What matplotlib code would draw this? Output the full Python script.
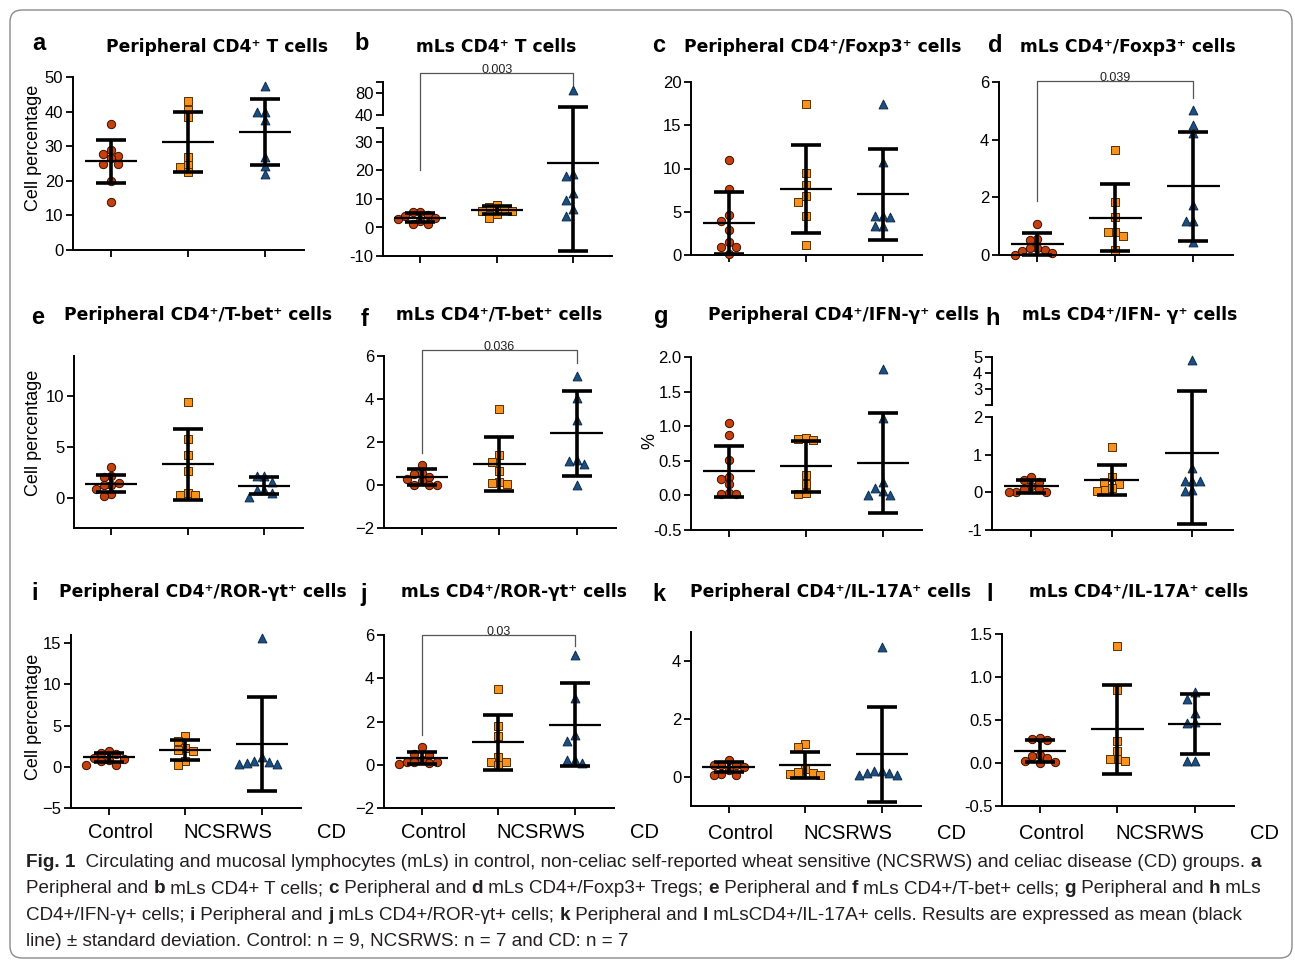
import numpy as np
import matplotlib.pyplot as plt
from matplotlib.patches import FancyBboxPatch
from matplotlib.transforms import IdentityTransform, blended_transform_factory

W, H = 1295, 960
plt.rcParams['font.family'] = ['Liberation Sans', 'DejaVu Sans']

groups = ["Control", "NCSRWS", "CD"]
colors = ["#c4400c", "#f8921e", "#1b4f82"]
edges = ["#3a1000", "#5a3000", "#0d2a48"]
markers = ["o", "s", "^"]
msize = [36, 30, 40]

# a - Peripheral CD4+ T cells
a_control = [36.5, 29.0, 27.7, 27.2, 26.7, 24.9, 24.9, 20.0, 14.0]
a_ncsrws = [43.1, 40.5, 38.3, 27.0, 24.6, 24.0, 22.4]
a_cd = [47.3, 39.8, 39.8, 37.6, 26.8, 24.3, 22.0]
a_mean = [25.6, 31.3, 34.1]
a_sd = [6.2, 8.7, 9.6]

# b - mLs CD4+ T cells
b_control = [5.5, 5.5, 4.3, 4.0, 3.2, 2.9, 2.2, 1.4, 1.2]
b_ncsrws = [7.8, 7.2, 6.6, 5.8, 5.8, 4.9, 3.5]
b_cd = [85.0, 18.7, 18.0, 12.1, 9.8, 6.5, 4.0]
b_mean = [3.4, 6.1, 22.8]
b_sd = [1.6, 1.3, 31.1]

# c - Peripheral CD4+/Foxp3+
c_control = [11.0, 7.6, 4.6, 3.9, 2.9, 1.5, 0.9, 0.9, 0.1]
c_ncsrws = [17.5, 9.5, 8.1, 6.8, 6.1, 4.5, 1.1]
c_cd = [17.4, 10.8, 4.5, 4.5, 4.4, 3.3, 3.3]
c_mean = [3.7, 7.6, 7.0]
c_sd = [3.6, 5.1, 5.3]

# d - mLs CD4+/Foxp3+
d_control = [1.07, 0.57, 0.53, 0.24, 0.23, 0.18, 0.15, 0.07, 0.0]
d_ncsrws = [3.63, 1.83, 1.31, 0.8, 0.79, 0.65, 0.16]
d_cd = [5.02, 4.52, 4.23, 1.75, 1.19, 1.19, 0.44]
d_mean = [0.39, 1.29, 2.38]
d_sd = [0.39, 1.16, 1.9]

# e - Peripheral CD4+/T-bet+
e_control = [3.0, 2.1, 2.05, 1.4, 1.25, 1.25, 0.82, 0.33, 0.16]
e_ncsrws = [9.5, 5.8, 4.2, 2.6, 0.43, 0.23, 0.23]
e_cd = [2.1, 2.1, 1.5, 0.72, 0.72, 0.46, 0.07]
e_mean = [1.38, 3.29, 1.2]
e_sd = [0.85, 3.5, 0.8]

# f - mLs CD4+/T-bet+
f_control = [0.94, 0.56, 0.53, 0.36, 0.28, 0.17, 0.02, 0.0, 0.0]
f_ncsrws = [3.53, 1.41, 1.07, 0.63, 0.12, 0.09, 0.06]
f_cd = [5.08, 4.04, 3.03, 1.15, 1.1, 0.99, 0.02]
f_mean = [0.37, 0.99, 2.41]
f_sd = [0.36, 1.25, 1.98]

# g - Peripheral CD4+/IFN-g+
g_control = [1.04, 0.87, 0.51, 0.27, 0.24, 0.16, 0.03, 0.02, 0.02]
g_ncsrws = [0.83, 0.81, 0.8, 0.29, 0.16, 0.04, 0.015]
g_cd = [1.83, 1.12, 0.2, 0.1, 0.06, 0.005, 0.005]
g_mean = [0.35, 0.42, 0.47]
g_sd = [0.37, 0.37, 0.72]

# h - mLs CD4+/IFN-g+
h_control = [0.4, 0.32, 0.29, 0.16, 0.1, 0.09, 0.01, 0.0, 0.0]
h_ncsrws = [1.21, 0.4, 0.27, 0.23, 0.13, 0.06, 0.04]
h_cd = [4.83, 0.65, 0.3, 0.3, 0.3, 0.07, 0.03]
h_mean = [0.16, 0.34, 1.04]
h_sd = [0.17, 0.4, 1.87]

# i - Peripheral CD4+/ROR-gt+
i_control = [1.9, 1.7, 1.6, 1.1, 1.0, 0.8, 0.73, 0.28, 0.2]
i_ncsrws = [3.8, 3.1, 2.24, 2.0, 1.9, 0.73, 0.2]
i_cd = [15.6, 1.2, 0.73, 0.6, 0.5, 0.33, 0.33]
i_mean = [1.14, 2.0, 2.77]
i_sd = [0.57, 1.2, 5.7]

# j - mLs CD4+/ROR-gt+
j_control = [0.8, 0.49, 0.46, 0.23, 0.15, 0.15, 0.12, 0.08, 0.05]
j_ncsrws = [3.5, 1.77, 1.34, 0.35, 0.11, 0.11, 0.0]
j_cd = [5.06, 3.09, 1.36, 1.08, 0.23, 0.2, 0.08]
j_mean = [0.31, 1.03, 1.85]
j_sd = [0.28, 1.27, 1.93]

# k - Peripheral CD4+/IL-17A+
k_control = [0.58, 0.43, 0.41, 0.41, 0.35, 0.23, 0.12, 0.06, 0.06]
k_ncsrws = [1.14, 1.03, 0.29, 0.17, 0.14, 0.09, 0.06]
k_cd = [4.49, 0.2, 0.2, 0.14, 0.14, 0.06, 0.06]
k_mean = [0.35, 0.41, 0.78]
k_sd = [0.18, 0.44, 1.65]

# l - mLs CD4+/IL-17A+
l_control = [0.29, 0.28, 0.27, 0.09, 0.08, 0.06, 0.02, 0.01, 0.0]
l_ncsrws = [1.36, 0.85, 0.26, 0.14, 0.05, 0.05, 0.02]
l_cd = [0.83, 0.75, 0.58, 0.48, 0.47, 0.02, 0.02]
l_mean = [0.14, 0.39, 0.45]
l_sd = [0.13, 0.52, 0.35]

# significance brackets: (left leg bottom, bracket top, right leg bottom, p)
b_sig = (20, 116, 94.5, "0.003")
d_sig = (1.86, 6.02, 5.45, "0.039")
f_sig = (1.49, 6.28, 5.66, "0.036")
j_sig = (1.36, 6.0, 5.49, "0.03")

caption = [
    "*Fig. 1*  Circulating and mucosal lymphocytes (mLs) in control, non-celiac self-reported wheat sensitive (NCSRWS) and celiac disease (CD) groups. *a*",
    "Peripheral and *b* mLs CD4+ T cells; *c* Peripheral and *d* mLs CD4+/Foxp3+ Tregs; *e* Peripheral and *f* mLs CD4+/T-bet+ cells; *g* Peripheral and *h* mLs",
    "CD4+/IFN-\u03b3+ cells; *i* Peripheral and *j* mLs CD4+/ROR-\u03b3t+ cells; *k* Peripheral and *l* mLsCD4+/IL-17A+ cells. Results are expressed as mean (black",
    "line) \u00b1 standard deviation. Control: n = 9, NCSRWS: n = 7 and CD: n = 7",
]


def rect(l, t, r, b):
    return [l / W, 1 - b / H, (r - l) / W, (b - t) / H]


def break_scale(vals, pix):
    # piecewise linear y scale for the broken axes
    s0 = (pix[1] - pix[0]) / (vals[1] - vals[0])
    s1 = (pix[-1] - pix[-2]) / (vals[-1] - vals[-2])
    v = [vals[0] - 1e4] + list(vals) + [vals[-1] + 1e4]
    p = [pix[0] - 1e4 * s0] + list(pix) + [pix[-1] + 1e4 * s1]
    return (lambda y: np.interp(y, v, p)), (lambda q: np.interp(q, p, v))


def swarm(ax, x0, vals, d=7.5):
    # spread points sideways (in pixels) when they would overlap
    tr = ax.transData
    ys = tr.transform(np.column_stack([np.full(len(vals), x0), vals]))[:, 1]
    ppu = tr.transform((1, 0))[0] - tr.transform((0, 0))[0]
    cands = [0.0] + [s * m * d for m in range(1, 8) for s in (-1, 1)]
    placed = []
    offs = np.zeros(len(vals))
    for idx in np.argsort(-ys):
        for c in cands:
            if all(np.hypot(c - px, ys[idx] - py) >= d - 0.01 for px, py in placed):
                break
        placed.append((c, ys[idx]))
        offs[idx] = c / ppu
    return x0 + offs


panels = [
    dict(L="a", T="Peripheral CD4\u207a T cells", Lxy=(39, 50), Txy=(217, 52), box=(73, 77, 304, 250),
         data=(a_control, a_ncsrws, a_cd), mean=a_mean, sd=a_sd, ylim=(0, 50),
         yt=[0, 10, 20, 30, 40, 50], ytl=None, ylab="Cell percentage", ylab_xy=(34, 148)),
    dict(L="b", T="mLs CD4\u207a T cells", Lxy=(362, 50), Txy=(496, 52), box=(383, 82, 612, 256),
         data=(b_control, b_ncsrws, b_cd), mean=b_mean, sd=b_sd, ylim=(-10, 100),
         yt=[-10, 0, 10, 20, 30, 35, 40, 80, 100], ytl=["-10", "0", "10", "20", "30", "", "40", "80", ""],
         brk=([-10, 35, 40, 100], [0, 128.25, 141, 174]), sig=b_sig),
    dict(L="c", T="Peripheral CD4\u207a/Foxp3\u207a cells", Lxy=(659, 52), Txy=(823, 52), box=(691, 82, 922, 255),
         data=(c_control, c_ncsrws, c_cd), mean=c_mean, sd=c_sd, ylim=(0, 20),
         yt=[0, 5, 10, 15, 20], ytl=None),
    dict(L="d", T="mLs CD4\u207a/Foxp3\u207a cells", Lxy=(995, 52), Txy=(1128, 52), box=(999, 82, 1233, 255),
         data=(d_control, d_ncsrws, d_cd), mean=d_mean, sd=d_sd, ylim=(0, 6),
         yt=[0, 2, 4, 6], ytl=None, sig=d_sig),
    dict(L="e", T="Peripheral CD4\u207a/T-bet\u207a cells", Lxy=(38, 324), Txy=(198, 320), box=(74, 356, 303, 528),
         data=(e_control, e_ncsrws, e_cd), mean=e_mean, sd=e_sd, ylim=(-3, 14),
         yt=[0, 5, 10], ytl=None, ylab="Cell percentage", ylab_xy=(34, 433)),
    dict(L="f", T="mLs CD4\u207a/T-bet\u207a cells", Lxy=(365, 326), Txy=(499, 320), box=(384, 356, 616, 528),
         data=(f_control, f_ncsrws, f_cd), mean=f_mean, sd=f_sd, ylim=(-2, 6),
         yt=[-2, 0, 2, 4, 6], ytl=None, sig=f_sig),
    dict(L="g", T="Peripheral CD4\u207a/IFN-\u03b3\u207a cells", Lxy=(661, 323), Txy=(843, 320), box=(691, 357, 922, 530),
         data=(g_control, g_ncsrws, g_cd), mean=g_mean, sd=g_sd, ylim=(-0.5, 2.0),
         yt=[-0.5, 0, 0.5, 1.0, 1.5, 2.0], ytl=["-0.5", "0.0", "0.5", "1.0", "1.5", "2.0"],
         ylab="%", ylab_xy=(650, 441)),
    dict(L="h", T="mLs CD4\u207a/IFN- \u03b3\u207a cells", Lxy=(993, 325), Txy=(1130, 320), box=(992, 357, 1233, 530),
         data=(h_control, h_ncsrws, h_cd), mean=h_mean, sd=h_sd, ylim=(-1, 5),
         yt=[-1, 0, 1, 2, 2.05, 3, 4, 5], ytl=["-1", "0", "1", "2", "", "3", "4", "5"],
         brk=([-1, 2, 2.05, 5], [0, 337, 375, 518])),
    dict(L="i", T="Peripheral CD4\u207a/ROR-\u03b3t\u207a cells", Lxy=(35, 600), Txy=(203, 597), box=(71, 635, 301, 808),
         data=(i_control, i_ncsrws, i_cd), mean=i_mean, sd=i_sd, ylim=(-5, 16),
         yt=[-5, 0, 5, 10, 15], ytl=None, ylab="Cell percentage", ylab_xy=(33, 717), xl=True),
    dict(L="j", T="mLs CD4\u207a/ROR-\u03b3t\u207a cells", Lxy=(364, 601), Txy=(514, 597), box=(384, 635, 614, 808),
         data=(j_control, j_ncsrws, j_cd), mean=j_mean, sd=j_sd, ylim=(-2, 6),
         yt=[-2, 0, 2, 4, 6], ytl=None, sig=j_sig, xl=True),
    dict(L="k", T="Peripheral CD4\u207a/IL-17A\u207a cells", Lxy=(659, 601), Txy=(830, 597), box=(691, 632, 921, 806),
         data=(k_control, k_ncsrws, k_cd), mean=k_mean, sd=k_sd, ylim=(-1, 5),
         yt=[0, 2, 4], ytl=None, xl=True),
    dict(L="l", T="mLs CD4\u207a/IL-17A\u207a cells", Lxy=(990, 601), Txy=(1139, 597), box=(1002, 634, 1234, 806),
         data=(l_control, l_ncsrws, l_cd), mean=l_mean, sd=l_sd, ylim=(-0.5, 1.5),
         yt=[-0.5, 0, 0.5, 1.0, 1.5], ytl=["-0.5", "0.0", "0.5", "1.0", "1.5"], xl=True),
]

label_x = [0.15, 1.55, 2.91]

fig = plt.figure(figsize=(W / 100, H / 100), dpi=100)

for p in panels:
    ax = fig.add_axes(rect(*p["box"]))
    if "brk" in p:
        fwd, inv = break_scale(*p["brk"])
        ax.set_yscale("function", functions=(fwd, inv))
    ax.set_xlim(-0.49, 2.51)
    ax.set_ylim(*p["ylim"])
    ax.set_yticks(p["yt"])
    if p["ytl"] is not None:
        ax.set_yticklabels(p["ytl"])
    ax.minorticks_off()
    ax.set_xticks([0, 1, 2])
    ax.tick_params(axis="x", labelbottom=False, length=5, width=1.3, direction="out")
    ax.tick_params(axis="y", labelsize=12, length=5, width=1.3, pad=2)
    for s in ("top", "right"):
        ax.spines[s].set_visible(False)
    for s in ("left", "bottom"):
        ax.spines[s].set_linewidth(1.4)
    if "brk" in p:
        ax.spines["left"].set_visible(False)
        v = p["brk"][0]
        ytr = ax.get_yaxis_transform()
        ax.plot([0, 0], [v[0], v[1]], color="black", lw=1.4, transform=ytr, clip_on=False)
        ax.plot([0, 0], [v[2], v[3]], color="black", lw=1.4, transform=ytr, clip_on=False)

    for gi, vals in enumerate(p["data"]):
        xs = swarm(ax, gi, vals)
        ax.scatter(xs, vals, s=msize[gi], marker=markers[gi], facecolor=colors[gi],
                   edgecolor=edges[gi], linewidth=0.7, zorder=2, clip_on=False)
        m, sd = p["mean"][gi], p["sd"][gi]
        ax.errorbar(gi, m, yerr=sd, fmt="none", ecolor="black", elinewidth=2.6,
                    capsize=10.5, capthick=2.6, zorder=3, clip_on=False)
        ax.hlines(m, gi - 0.34, gi + 0.34, colors="black", lw=1.6, zorder=3)

    if "sig" in p:
        lo, top, ro, ptxt = p["sig"]
        ax.plot([0, 0, 2, 2], [lo, top, top, ro], color="#555555", lw=0.9, clip_on=False, zorder=1)
        ax.text(1, top, ptxt, ha="center", va="baseline", fontsize=9, color="#222222")

    if p.get("xl"):
        tr = blended_transform_factory(ax.transData, fig.transFigure)
        ly = 1 - (838 if p["L"] in "ij" else 839) / H
        for lx, g in zip(label_x, groups):
            ax.text(lx, ly, g, transform=tr, ha="center", va="baseline", fontsize=14.5)

    fig.text(p["Lxy"][0] / W, 1 - p["Lxy"][1] / H, p["L"], ha="center", va="baseline",
             fontsize=17, fontweight="bold")
    fig.text(p["Txy"][0] / W, 1 - p["Txy"][1] / H, p["T"], ha="center", va="baseline",
             fontsize=12.3, fontweight="bold", family=["DejaVu Sans"])
    if "ylab" in p:
        fig.text(p["ylab_xy"][0] / W, 1 - p["ylab_xy"][1] / H, p["ylab"], rotation=90,
                 ha="center", va="center", fontsize=13)

# caption, laid out run by run so the panel letters can be bold
cap_font = ["Liberation Sans", "DejaVu Sans"]
cap_size = 13.0
r = fig.canvas.get_renderer()


def text_w(s, bold, size):
    t = fig.text(0, 0, s, fontsize=size, family=cap_font, fontweight="bold" if bold else "normal")
    w = t.get_window_extent(r).width
    t.remove()
    return w


def run_w(run, bold, size, sw):
    core = run.rstrip(" ")
    return (text_w(core, bold, size) if core else 0) + (len(run) - len(core)) * sw[bold]


def line_w(line, size, sw):
    return sum(run_w(run, k % 2 == 1, size, sw) for k, run in enumerate(line.split("*")) if run)


sw = {b: text_w("a a", b, cap_size) - text_w("aa", b, cap_size) for b in (False, True)}
# shrink the caption font so the first line spans the same width as in the figure
cap_size = cap_size * 1240 / line_w(caption[0], cap_size, sw)
sw = {b: text_w("a a", b, cap_size) - text_w("aa", b, cap_size) for b in (False, True)}

for li, line in enumerate(caption):
    x = 26
    y = 867 + li * 26.4
    for k, run in enumerate(line.split("*")):
        if not run:
            continue
        bold = k % 2 == 1
        fig.text(x / W, 1 - y / H, run, fontsize=cap_size, family=cap_font, color="#231f20",
                 fontweight="bold" if bold else "normal", ha="left", va="baseline")
        x += run_w(run, bold, cap_size, sw)

fig.add_artist(FancyBboxPatch((10, 2), 1282, 948, boxstyle="round,pad=0,rounding_size=12",
                              transform=IdentityTransform(), fill=False, edgecolor="#8a8a8a", lw=1.0))

fig.savefig("out.png", dpi=100)
